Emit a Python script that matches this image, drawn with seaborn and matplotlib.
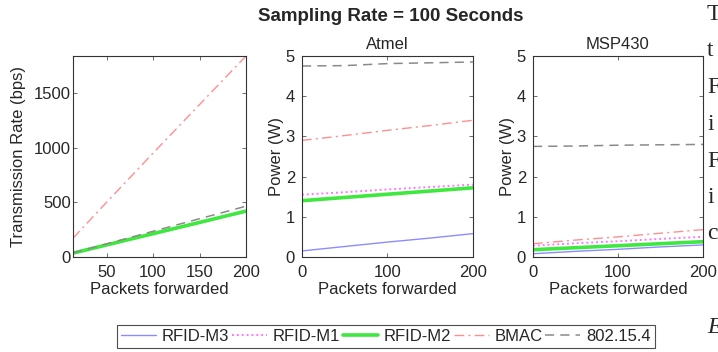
import matplotlib
matplotlib.use("Agg")
import matplotlib.pyplot as plt
import seaborn as sns
from matplotlib.lines import Line2D

# ---- data ----
series = ["RFID-M3", "RFID-M1", "RFID-M2", "BMAC", "802.15.4"]

# left panel: transmission rate (bps)
rate_x = [14, 50, 100, 150, 200]
rate_m3 = [33, 108, 210, 312, 415]
rate_m1 = [34, 109, 212, 315, 418]
rate_m2 = [35, 110, 213, 316, 420]
rate_bmac = [172, 500, 950, 1395, 1840]
rate_802 = [38, 120, 235, 350, 465]

# middle panel: Atmel power (W)
pw_x = [0, 50, 100, 150, 200]
atmel_m3 = [0.15, 0.26, 0.37, 0.47, 0.58]
atmel_m1 = [1.55, 1.61, 1.68, 1.74, 1.80]
atmel_m2 = [1.40, 1.48, 1.56, 1.64, 1.72]
atmel_bmac = [2.90, 3.02, 3.15, 3.27, 3.40]
atmel_802 = [4.75, 4.76, 4.81, 4.83, 4.85]

# right panel: MSP430 power (W)
msp_m3 = [0.08, 0.14, 0.19, 0.25, 0.30]
msp_m1 = [0.28, 0.34, 0.39, 0.45, 0.50]
msp_m2 = [0.18, 0.23, 0.28, 0.33, 0.38]
msp_bmac = [0.33, 0.42, 0.50, 0.59, 0.68]
msp_802 = [2.75, 2.76, 2.78, 2.79, 2.80]

styles = {
    "RFID-M3": dict(color="#8c8cff", linestyle="-", linewidth=1.0),
    "RFID-M1": dict(color="#ff77ff", linestyle=(0, (1, 1.5)), linewidth=1.4),
    "RFID-M2": dict(color="#3ee83e", linestyle="-", linewidth=2.6),
    "BMAC": dict(color="#ff8f8f", linestyle=(0, (7, 3, 1.5, 3)), linewidth=1.0),
    "802.15.4": dict(color="#8a8a8a", linestyle=(0, (6, 4)), linewidth=1.1),
}

sns.set_style("ticks")
plt.rcParams["font.family"] = ["Liberation Sans", "DejaVu Sans"]
plt.rcParams["xtick.direction"] = "in"
plt.rcParams["ytick.direction"] = "in"

fig = plt.figure(figsize=(7.18, 3.52), dpi=100)
ax1 = fig.add_axes([0.1017, 0.270, 0.241, 0.571])
ax2 = fig.add_axes([0.4206, 0.270, 0.238, 0.571])
ax3 = fig.add_axes([0.7423, 0.270, 0.2368, 0.571])


def draw(ax, x, ys):
    for name, y in zip(series, ys):
        sns.lineplot(x=x, y=y, ax=ax, legend=False, **styles[name])


draw(ax1, rate_x, [rate_m3, rate_m1, rate_m2, rate_bmac, rate_802])
draw(ax2, pw_x, [atmel_m3, atmel_m1, atmel_m2, atmel_bmac, atmel_802])
draw(ax3, pw_x, [msp_m3, msp_m1, msp_m2, msp_bmac, msp_802])

ax1.set_xlim(14, 200)
ax1.set_ylim(0, 1840)
ax1.set_xticks([50, 100, 150, 200])
ax1.set_yticks([0, 500, 1000, 1500])
ax1.set_ylabel("Transmission Rate (bps)", fontsize=12, labelpad=6)

for ax, title in [(ax2, "Atmel"), (ax3, "MSP430")]:
    ax.set_xlim(0, 200)
    ax.set_ylim(0, 5)
    ax.set_xticks([0, 100, 200])
    ax.set_yticks([0, 1, 2, 3, 4, 5])
    ax.set_ylabel("Power (W)", fontsize=12, labelpad=1)
    ax.set_title(title, fontsize=12, pad=5)

for ax in (ax1, ax2, ax3):
    ax.set_xlabel("Packets forwarded", fontsize=12, labelpad=1)
    ax.tick_params(labelsize=12, length=3, width=0.6, top=True, right=True,
                   color="#555555")
    ax.tick_params(axis="x", pad=6)
    ax.tick_params(axis="y", pad=5 if ax is not ax1 else 1.5)
    for sp in ax.spines.values():
        sp.set_visible(True)
        sp.set_linewidth(0.8)
        sp.set_color("#333333")

fig.text(0.5446, 0.952, "Sampling Rate = 100 Seconds", ha="center", va="center",
         fontsize=13.5, fontweight="bold")

handles = [Line2D([], [], **styles[n]) for n in series]
leg = fig.legend(handles, series, loc="center", bbox_to_anchor=(0.5375, 0.044),
                 ncol=5, fontsize=12, frameon=True, fancybox=False,
                 handlelength=2.1, handletextpad=0.36, columnspacing=0.15,
                 borderpad=0.22, borderaxespad=0)
leg.get_frame().set_edgecolor("#222222")
leg.get_frame().set_linewidth(0.8)

# edge of the neighbouring page text, cut off at the right
serif = ["Liberation Serif", "DejaVu Serif"]
side = [("T", 20), ("t", 56), ("F", 93), ("i", 130),
        ("F", 167), ("i", 203), ("c", 239)]
for ch, base in side:
    fig.text(707 / 718, 1 - base / 352, ch, ha="left", va="baseline",
             fontsize=17, family=serif)
fig.text(707 / 718, 1 - 333 / 352, "E", ha="left", va="baseline",
         fontsize=17, style="italic", family=serif)

fig.savefig("out.png", dpi=100)
